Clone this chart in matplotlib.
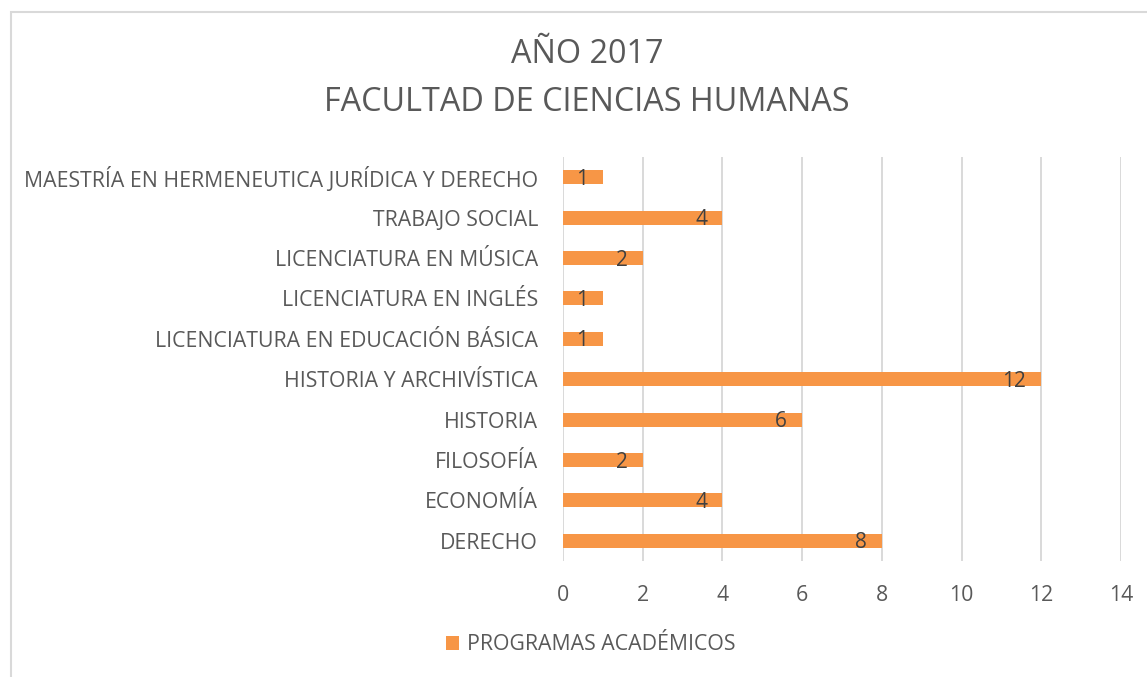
import numpy as np
import matplotlib.pyplot as plt
from matplotlib.patches import Rectangle

# datos
programas = ["DERECHO", "ECONOMÍA", "FILOSOFÍA", "HISTORIA",
             "HISTORIA Y ARCHIVÍSTICA", "LICENCIATURA EN EDUCACIÓN BÁSICA",
             "LICENCIATURA EN INGLÉS", "LICENCIATURA EN MÚSICA",
             "TRABAJO SOCIAL", "MAESTRÍA EN HERMENEUTICA JURÍDICA Y DERECHO"]
valores = [8, 4, 2, 6, 12, 1, 1, 2, 4, 1]
serie = "PROGRAMAS ACADÉMICOS"
titulo = "AÑO 2017\nFACULTAD DE CIENCIAS HUMANAS"

W, H = 1147, 677
naranja = "#F79646"
gris_txt = "#595959"
gris_linea = "#D9D9D9"

plt.rcParams['font.family'] = ['Open Sans', 'DejaVu Sans']

fig = plt.figure(figsize=(W/100, H/100), dpi=100)
ax = fig.add_axes([563/W, 1 - 561/H, (1121-563)/W, (561-157)/H])

y = np.arange(len(programas))
ax.barh(y, valores, height=0.35, color=naranja, label=serie, zorder=3)

# etiquetas de datos (extremo interno)
for yi, v in zip(y, valores):
    ax.annotate(str(v), xy=(v, yi), xytext=(-11, -1.5), textcoords="offset points",
                ha="right", va="center", fontsize=15, color="#404040", zorder=4)

ax.set_xlim(0, 14)
ax.set_ylim(-0.5, len(programas) - 0.5)
ax.set_xticks(np.arange(0, 15, 2))
ax.set_yticks(y)
ax.set_yticklabels(programas)
ax.tick_params(axis="both", length=0, labelsize=15.3, colors=gris_txt)
ax.tick_params(axis="x", pad=17)
ax.tick_params(axis="y", pad=18)
ax.grid(axis="x", color=gris_linea, linewidth=1.4, zorder=0)
for s in ax.spines.values():
    s.set_visible(False)

fig.text(587/W, 1 - 78.5/H, titulo, ha="center", va="center", fontsize=23.3,
         color=gris_txt, linespacing=1.58)

fig.legend(loc="center", bbox_to_anchor=(591/W, 1 - 645/H), frameon=False,
           fontsize=15.3, labelcolor=gris_txt, handlelength=0.6, handleheight=0.6,
           handletextpad=0.4)

# borde del área del gráfico
fig.patches.append(Rectangle((11/W, -0.1), 1.2, 1.1 - 12/H, transform=fig.transFigure,
                             fill=False, edgecolor=gris_linea, linewidth=1.5))

fig.savefig("out.png", dpi=100)
